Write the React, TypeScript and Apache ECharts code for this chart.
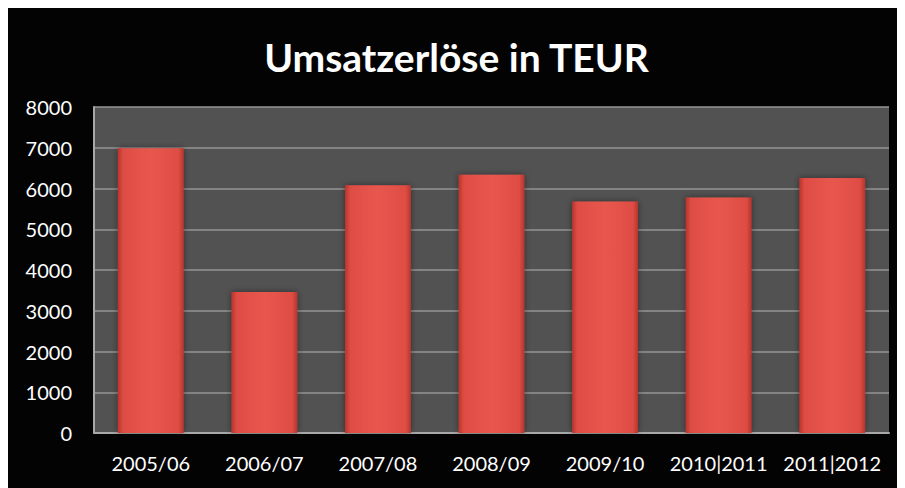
import React, { useEffect, useRef } from "react";
import * as echarts from "echarts";

const title = "Umsatzerlöse in TEUR";
const categories = ["2005/06", "2006/07", "2007/08", "2008/09", "2009/10", "2010|2011", "2011|2012"];
const revenue = [6990, 3460, 6080, 6340, 5680, 5780, 6260];
const yTicks = { min: 0, max: 8000, interval: 1000 };

export default function App() {
  const ref = useRef<HTMLDivElement>(null);
  useEffect(() => {
    if (!ref.current) return;
    const chart = echarts.init(ref.current, undefined, { renderer: "svg" });
    const font = "Lato, 'Open Sans', sans-serif";
    chart.setOption({
      animation: false,
      backgroundColor: "#030303",
      title: {
        text: title,
        left: "center",
        top: 24,
        textStyle: { color: "#ffffff", fontSize: 39, fontWeight: "bold", fontFamily: font },
      },
      grid: {
        left: 86,
        top: 99,
        right: 16,
        bottom: 55,
        show: true,
        backgroundColor: "#525252",
        borderWidth: 0,
      },
      xAxis: {
        type: "category",
        data: categories,
        axisLine: { lineStyle: { color: "#a8a8a8", width: 2 } },
        axisTick: { show: false },
        axisLabel: { color: "#ffffff", fontSize: 20, fontFamily: font, margin: 20, interval: 0 },
      },
      yAxis: {
        type: "value",
        min: yTicks.min,
        max: yTicks.max,
        interval: yTicks.interval,
        axisLine: { show: true, lineStyle: { color: "#a8a8a8", width: 2 } },
        axisTick: { show: false },
        splitLine: { lineStyle: { color: "#969696", width: 1.5 } },
        axisLabel: {
          color: "#ffffff",
          fontSize: 20,
          fontFamily: font,
          margin: 22,
          formatter: (v: number) => String(v),
        },
      },
      series: [
        {
          type: "bar",
          data: revenue,
          barWidth: "58%",
          itemStyle: {
            color: new echarts.graphic.LinearGradient(0, 0, 1, 0, [
              { offset: 0, color: "#b8342c" },
              { offset: 0.08, color: "#de4d44" },
              { offset: 0.5, color: "#e8574d" },
              { offset: 0.92, color: "#de4d44" },
              { offset: 1, color: "#b8342c" },
            ]),
            shadowColor: "rgba(0,0,0,0.45)",
            shadowBlur: 6,
          },
        },
      ],
    });
    return () => chart.dispose();
  }, []);
  return <div ref={ref} style={{ width: 897, height: 480 }} />;
}
